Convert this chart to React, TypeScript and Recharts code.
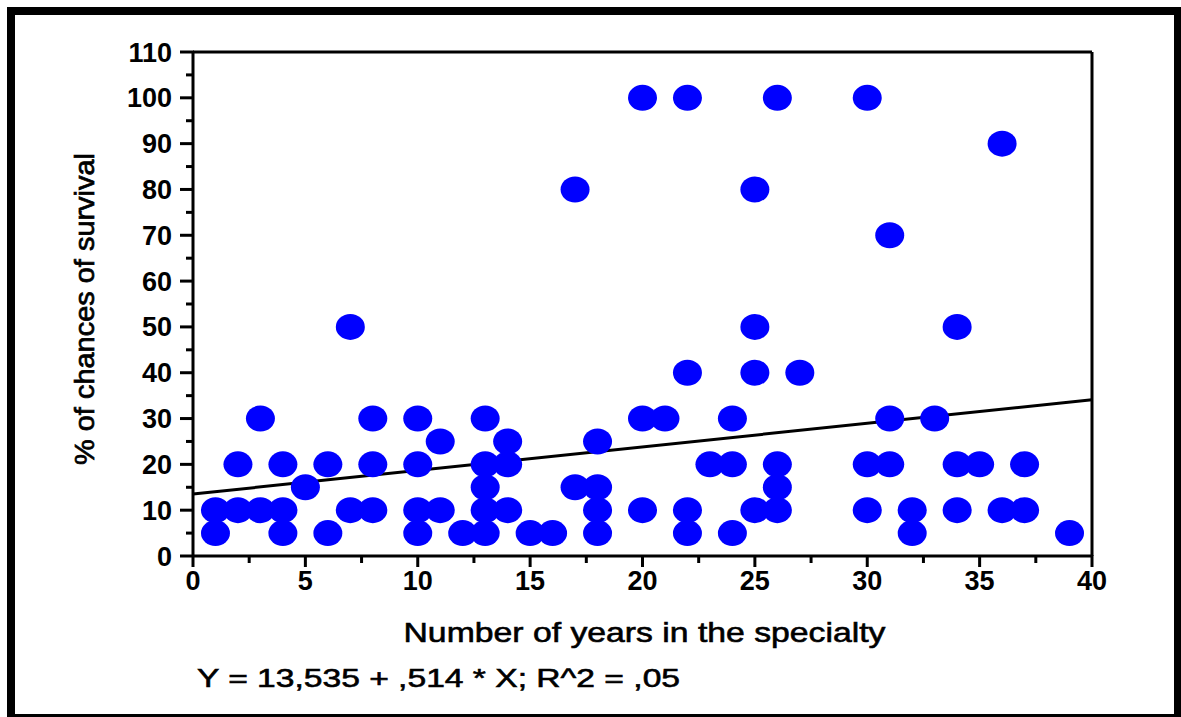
import { ScatterChart, Scatter, XAxis, YAxis, ReferenceLine } from "recharts";

// years in the specialty vs % chances of survival, one entry per respondent
const years = [
  1, 1, 2, 2, 3, 3, 4, 4, 4, 5, 6, 6, 7, 7, 8, 8, 8, 10, 10, 10, 10, 11, 11, 12, 13, 13, 13, 13, 13, 14, 14, 14, 15,
  16, 17, 17, 18, 18, 18, 18, 20, 20, 20, 21, 22, 22, 22, 22, 23, 24, 24, 24, 25, 25, 25, 25, 26, 26, 26, 26, 27, 30,
  30, 30, 31, 31, 31, 32, 32, 33, 34, 34, 34, 35, 36, 36, 37, 37, 39,
];
const survival = [
  5, 10, 10, 20, 10, 30, 5, 10, 20, 15, 5, 20, 10, 50, 10, 20, 30, 5, 10, 20, 30, 10, 25, 5, 5, 10, 15, 20, 30, 10, 20,
  25, 5, 5, 15, 80, 5, 10, 15, 25, 10, 30, 100, 30, 5, 10, 40, 100, 20, 5, 20, 30, 10, 40, 50, 80, 10, 15, 20, 100, 40,
  10, 20, 100, 20, 30, 70, 5, 10, 30, 10, 20, 50, 20, 10, 90, 10, 20, 5,
];

const xTicks = [0, 2.5, 5, 7.5, 10, 12.5, 15, 17.5, 20, 22.5, 25, 27.5, 30, 32.5, 35, 37.5, 40];
const yTicks = [0, 5, 10, 15, 20, 25, 30, 35, 40, 45, 50, 55, 60, 65, 70, 75, 80, 85, 90, 95, 100, 105, 110];

const intercept = 13.535;
const slope = 0.514;
const equation = "Y = 13,535 + ,514 * X; R^2 = ,05";

const FONT = "'Liberation Sans', Arial, Helvetica, sans-serif";

const points = years.map((x, i) => ({ x, y: survival[i] }));

function BlueDot(props: any) {
  const { cx, cy } = props;
  if (cx == null || cy == null) return null;
  return <ellipse cx={cx} cy={cy} rx={14.5} ry={13} fill="#0000ff" />;
}

function BottomTick({ x, y, payload }: any) {
  const v = payload.value;
  const major = v % 5 === 0;
  return (
    <g>
      <line x1={x} x2={x} y1={y - 1} y2={y + (major ? 11 : 7)} stroke="#000" strokeWidth={3} />
      {major && (
        <text x={x} y={y + 34} textAnchor="middle" fontFamily={FONT} fontWeight="bold" fontSize={27} fill="#000">
          {v}
        </text>
      )}
    </g>
  );
}

function TopTick({ x, y, payload }: any) {
  const major = payload.value % 5 === 0;
  return <line x1={x} x2={x} y1={y + 1} y2={y - (major ? 11 : 7)} stroke="#000" strokeWidth={3} />;
}

function LeftTick({ x, y, payload }: any) {
  const v = payload.value;
  const major = v % 10 === 0;
  return (
    <g>
      <line x1={x + 1} x2={x - (major ? 13 : 7)} y1={y} y2={y} stroke="#000" strokeWidth={3} />
      {major && (
        <text x={x - 21} y={y + 9.5} textAnchor="end" fontFamily={FONT} fontWeight="bold" fontSize={27} fill="#000">
          {v}
        </text>
      )}
    </g>
  );
}

function RightTick({ x, y, payload }: any) {
  const major = payload.value % 10 === 0;
  return <line x1={x - 1} x2={x + (major ? 14 : 9)} y1={y} y2={y} stroke="#000" strokeWidth={3} />;
}

function XTitle(props: any) {
  const vb = props.viewBox ?? { x: 193, y: 556, width: 899, height: 30 };
  return (
    <g>
      <text
        x={vb.x + vb.width / 2 + 2}
        y={vb.y + 86}
        textAnchor="middle"
        fontFamily={FONT}
        fontSize={28}
        textLength={482}
        lengthAdjust="spacingAndGlyphs"
        fill="#000"
        stroke="#000"
        strokeWidth={0.6}
      >
        Number of years in the specialty
      </text>
      <text
        x={vb.x + 4}
        y={vb.y + 131}
        fontFamily={FONT}
        fontSize={26}
        textLength={483}
        lengthAdjust="spacingAndGlyphs"
        fill="#000"
        stroke="#000"
        strokeWidth={0.6}
      >
        {equation}
      </text>
    </g>
  );
}

function YTitle(props: any) {
  const vb = props.viewBox ?? { x: 133, y: 52, width: 60, height: 504 };
  const cx = vb.x - 48;
  const cy = vb.y + vb.height / 2 + 5;
  return (
    <text
      x={cx}
      y={cy}
      transform={`rotate(-90, ${cx}, ${cy})`}
      textAnchor="middle"
      dominantBaseline="central"
      fontFamily={FONT}
      fontSize={27}
      textLength={312}
      lengthAdjust="spacingAndGlyphs"
      fill="#000"
      stroke="#000"
      strokeWidth={0.7}
    >
      % of chances of survival
    </text>
  );
}

export default function App() {
  const axisLine = { stroke: "#000", strokeWidth: 3 };
  return (
    <div style={{ position: "absolute", left: 0, top: 0, width: 1181, height: 717, background: "#fff" }}>
      <ScatterChart width={1181} height={717} margin={{ top: 42, right: 79, bottom: 131, left: 133 }}>
        <XAxis
          dataKey="x"
          type="number"
          domain={[0, 40]}
          ticks={xTicks}
          interval={0}
          tick={<BottomTick />}
          tickLine={false}
          tickSize={0}
          tickMargin={0}
          axisLine={axisLine}
          height={30}
          label={<XTitle />}
        />
        <XAxis
          xAxisId="top"
          orientation="top"
          type="number"
          domain={[0, 40]}
          ticks={xTicks}
          interval={0}
          tick={<TopTick />}
          tickLine={false}
          tickSize={0}
          tickMargin={0}
          axisLine={axisLine}
          height={10}
        />
        <YAxis
          dataKey="y"
          type="number"
          domain={[0, 110]}
          ticks={yTicks}
          interval={0}
          tick={<LeftTick />}
          tickLine={false}
          tickSize={0}
          tickMargin={0}
          axisLine={axisLine}
          width={60}
          label={<YTitle />}
        />
        <YAxis
          yAxisId="right"
          orientation="right"
          type="number"
          domain={[0, 110]}
          ticks={yTicks}
          interval={0}
          tick={<RightTick />}
          tickLine={false}
          tickSize={0}
          tickMargin={0}
          axisLine={axisLine}
          width={10}
        />
        <Scatter data={points} shape={<BlueDot />} isAnimationActive={false} />
        <ReferenceLine
          segment={[
            { x: 0, y: intercept },
            { x: 40, y: intercept + slope * 40 },
          ]}
          stroke="#000"
          strokeWidth={3}
        />
      </ScatterChart>
      <div
        style={{
          position: "absolute",
          left: 7,
          top: 7,
          right: 0,
          bottom: 0,
          borderStyle: "solid",
          borderColor: "#000",
          borderWidth: "8px 7px 3px 8px",
          pointerEvents: "none",
        }}
      />
    </div>
  );
}
